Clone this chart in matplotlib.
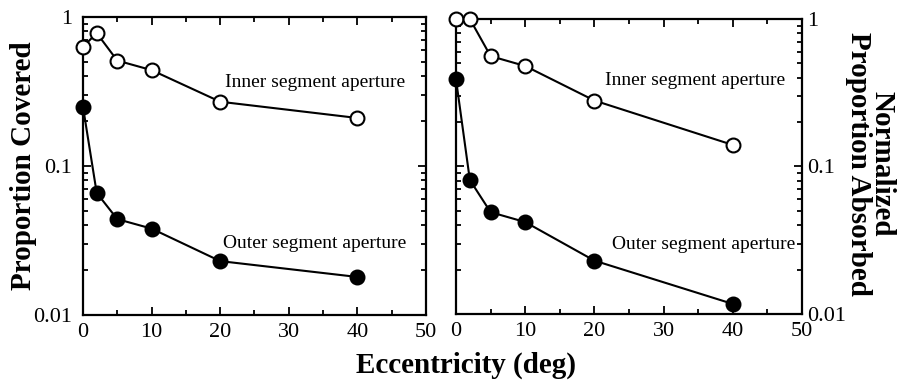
import numpy as np
import matplotlib
matplotlib.use('Agg')
from matplotlib import pyplot as plt
from matplotlib.ticker import LogLocator, MultipleLocator, FixedLocator, NullFormatter

plt.rcParams['font.family'] = ['Liberation Serif', 'DejaVu Serif']

ecc = [0, 2, 5, 10, 20, 40]
covered_inner = [0.63, 0.78, 0.51, 0.44, 0.27, 0.21]
covered_outer = [0.25, 0.066, 0.044, 0.038, 0.023, 0.018]
absorbed_inner = [1.0, 1.0, 0.56, 0.48, 0.28, 0.14]
absorbed_outer = [0.39, 0.081, 0.049, 0.042, 0.023, 0.0117]
yticks = [0.01, 0.1, 1]
yticklabels = ['0.01', '0.1', '1']
xticks = [0, 10, 20, 30, 40, 50]

fig = plt.figure(figsize=(8.98, 3.9), dpi=100)
ax1 = fig.add_axes([0.0924, 0.1923, 0.382, 0.7641])
ax2 = fig.add_axes([0.5078, 0.1949, 0.3853, 0.7564])


def style_panel(ax, inner, outer, side):
    ax.plot(ecc, inner, '-o', color='black', lw=1.5, ms=10, mfc='white', mec='black', mew=1.5,
            clip_on=False, zorder=3)
    ax.plot(ecc, outer, '-o', color='black', lw=1.5, ms=10, mfc='black', mec='black', mew=1.5,
            clip_on=False, zorder=3)
    ax.set_yscale('log')
    ax.set_xlim(0, 50)
    ax.set_ylim(0.01, 1)
    ax.set_xticks(xticks)
    ax.xaxis.set_minor_locator(MultipleLocator(5))
    ax.yaxis.set_major_locator(FixedLocator(yticks))
    ax.set_yticklabels(yticklabels)
    ax.yaxis.set_minor_locator(LogLocator(base=10, subs=np.arange(2, 10)))
    ax.yaxis.set_minor_formatter(NullFormatter())
    ax.tick_params(which='both', direction='in', top=True, bottom=True, left=True, right=True,
                   width=1.3, labelsize=16, pad=6)
    ax.tick_params(which='major', length=6)
    ax.tick_params(which='minor', length=3.5)
    if side == 'right':
        ax.tick_params(axis='y', labelleft=False, labelright=True, pad=4)
    else:
        ax.tick_params(axis='y', pad=8)
    for s in ax.spines.values():
        s.set_linewidth(1.6)


style_panel(ax1, covered_inner, covered_outer, 'left')
style_panel(ax2, absorbed_inner, absorbed_outer, 'right')

ax1.text(20.7, 0.366, 'Inner segment aperture', fontsize=14, va='center', ha='left')
ax1.text(20.4, 0.0304, 'Outer segment aperture', fontsize=14, va='center', ha='left')
ax2.text(21.5, 0.38, 'Inner segment aperture', fontsize=14, va='center', ha='left')
ax2.text(22.5, 0.0298, 'Outer segment aperture', fontsize=14, va='center', ha='left')

ax1.set_ylabel('Proportion Covered', fontsize=21, fontweight='bold', va='center')
ax1.yaxis.set_label_coords(-0.172, 0.5)
ax2.yaxis.set_label_position('right')
ax2.set_ylabel('Normalized\nProportion Absorbed', fontsize=21, fontweight='bold',
               rotation=270, va='center', linespacing=0.85)
ax2.yaxis.set_label_coords(1.198, 0.51)

fig.text(0.519, 0.064, 'Eccentricity (deg)', fontsize=21, fontweight='bold', ha='center', va='center')

fig.savefig('out.png', dpi=100)
